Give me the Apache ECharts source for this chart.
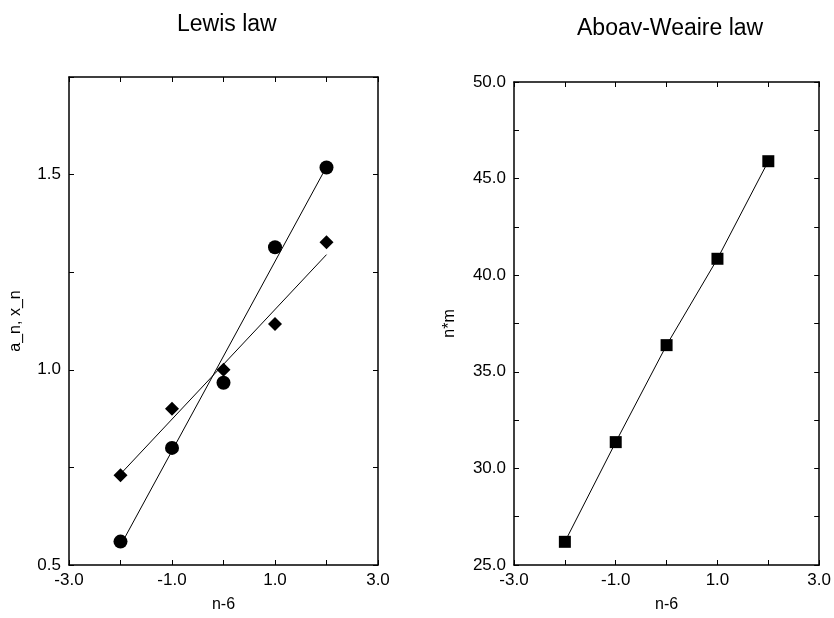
<!DOCTYPE html>
<html>
<head>
<meta charset="utf-8">
<script src="https://cdn.jsdelivr.net/npm/echarts@6/dist/echarts.min.js"></script>
<style>
html,body{margin:0;padding:0;background:#fff;}
#chart{width:834px;height:618px;}
</style>
</head>
<body>
<div id="chart"></div>
<script>
// ---- data ----
var nMinus6 = [-2, -1, 0, 1, 2];
var lewisA = [0.56, 0.80, 0.967, 1.314, 1.518];     // circles
var lewisX = [0.73, 0.90, 1.00, 1.117, 1.327];      // diamonds
var lewisFitA = [[-2, 0.55], [2, 1.52]];            // fitted line for circles
var lewisFitX = [[-2, 0.733], [2, 1.295]];          // fitted line for diamonds
var aboavNM = [26.2, 31.36, 36.38, 40.85, 45.9];    // squares
var xTickLabels = ['-3.0', '-1.0', '1.0', '3.0'];
var lewisYTickLabels = ['0.5', '1.0', '1.5'];
var aboavYTickLabels = ['25.0', '30.0', '35.0', '40.0', '45.0', '50.0'];

function pairs(xs, ys) { return xs.map(function (x, i) { return [x, ys[i]]; }); }

var FONT = '"Liberation Sans", Arial, Helvetica, sans-serif';
var lineStyle = { color: '#000', width: 1.5 };

function xAxisDef(gridIndex, pos) {
  var bottom = pos === 'bottom';
  return {
    type: 'value', gridIndex: gridIndex, position: pos,
    min: -3, max: 3, interval: 1,
    name: bottom ? 'n-6' : '', nameLocation: 'middle', nameGap: 32,
    nameTextStyle: { fontFamily: FONT, fontSize: 16, color: '#000' },
    axisLine: { show: true, onZero: false, lineStyle: lineStyle },
    axisTick: { show: true, inside: true, length: 5, lineStyle: { color: '#000', width: 1 } },
    axisLabel: {
      show: bottom, margin: 7, fontFamily: FONT, fontSize: 17, color: '#000',
      showMinLabel: true, showMaxLabel: true, hideOverlap: false,
      formatter: function (v) { var s = v.toFixed(1); return xTickLabels.indexOf(s) >= 0 ? s : ''; }
    },
    splitLine: { show: false }
  };
}

function yAxisDef(gridIndex, pos, min, max, interval, labels, name, gap) {
  var left = pos === 'left';
  return {
    type: 'value', gridIndex: gridIndex, position: pos,
    min: min, max: max, interval: interval,
    name: left ? name : '', nameLocation: 'middle', nameGap: gap,
    nameTextStyle: { fontFamily: FONT, fontSize: 16, color: '#000' },
    axisLine: { show: true, onZero: false, lineStyle: lineStyle },
    axisTick: { show: true, inside: true, length: 5, lineStyle: { color: '#000', width: 1 } },
    axisLabel: {
      show: left, margin: 8, fontFamily: FONT, fontSize: 17, color: '#000',
      showMinLabel: true, showMaxLabel: true, hideOverlap: false,
      formatter: function (v) { var s = v.toFixed(1); return labels.indexOf(s) >= 0 ? s : ''; }
    },
    splitLine: { show: false }
  };
}

var chart = echarts.init(document.getElementById('chart'), null, { renderer: 'canvas' });
chart.setOption({
  animation: false,
  backgroundColor: '#fff',
  title: [
    { text: 'Lewis law', left: 172, top: 8, textStyle: { fontFamily: FONT, fontSize: 23, fontWeight: 'normal', color: '#000' } },
    { text: 'Aboav-Weaire law', left: 572, top: 12, textStyle: { fontFamily: FONT, fontSize: 23, fontWeight: 'normal', color: '#000' } }
  ],
  grid: [
    { left: 69, top: 77, width: 309, height: 489 },
    { left: 514, top: 82, width: 308, height: 487 }
  ],
  xAxis: [
    xAxisDef(0, 'bottom'), xAxisDef(0, 'top'),
    xAxisDef(1, 'bottom'), xAxisDef(1, 'top')
  ],
  yAxis: [
    yAxisDef(0, 'left', 0.5, 1.75, 0.25, lewisYTickLabels, 'a_n, x_n', 45),
    yAxisDef(0, 'right', 0.5, 1.75, 0.25, lewisYTickLabels, '', 0),
    yAxisDef(1, 'left', 25, 50, 2.5, aboavYTickLabels, 'n*m', 56),
    yAxisDef(1, 'right', 25, 50, 2.5, aboavYTickLabels, '', 0)
  ],
  series: [
    { type: 'line', xAxisIndex: 0, yAxisIndex: 0, data: lewisFitA, showSymbol: false, symbol: 'none',
      lineStyle: { color: '#000', width: 1 }, silent: true },
    { type: 'line', xAxisIndex: 0, yAxisIndex: 0, data: lewisFitX, showSymbol: false, symbol: 'none',
      lineStyle: { color: '#000', width: 1 }, silent: true },
    { type: 'scatter', xAxisIndex: 0, yAxisIndex: 0, data: pairs(nMinus6, lewisA),
      symbol: 'circle', symbolSize: 14, itemStyle: { color: '#000', opacity: 1 } },
    { type: 'scatter', xAxisIndex: 0, yAxisIndex: 0, data: pairs(nMinus6, lewisX),
      symbol: 'diamond', symbolSize: 14, itemStyle: { color: '#000', opacity: 1 } },
    { type: 'line', xAxisIndex: 2, yAxisIndex: 2, data: pairs(nMinus6, aboavNM),
      symbol: 'rect', symbolSize: 12, showSymbol: true,
      lineStyle: { color: '#000', width: 1 }, itemStyle: { color: '#000', opacity: 1 } }
  ]
});
</script>
</body>
</html>
